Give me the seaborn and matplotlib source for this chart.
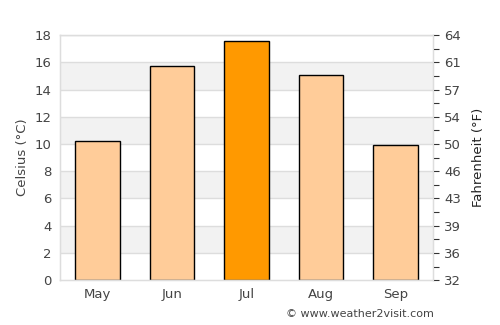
import matplotlib
matplotlib.use("Agg")
import matplotlib.pyplot as plt
import seaborn as sns
import pandas as pd

months = ["May", "Jun", "Jul", "Aug", "Sep"]
celsius = [10.2, 15.7, 17.6, 15.1, 9.9]
highlight = "Jul"
c_ticks = [0, 2, 4, 6, 8, 10, 12, 14, 16, 18]

df = pd.DataFrame({"month": months, "temp": celsius})
palette = {m: ("#ff9900" if m == highlight else "#ffcc99") for m in months}

sns.set_style("white")
plt.rcParams["font.family"] = ["DejaVu Sans"]

fig = plt.figure(figsize=(5, 3.25), dpi=100)
ax = fig.add_axes([0.12, 0.138, 0.746, 0.754])

# alternating background bands
for lo in range(2, 18, 4):
    ax.axhspan(lo, lo + 2, color="#f2f2f2", zorder=0, lw=0)
for y in c_ticks[1:]:
    ax.axhline(y, color="#dddddd", lw=1, zorder=0.5)

sns.barplot(data=df, x="month", y="temp", hue="month", palette=palette,
            width=0.6, edgecolor="black", linewidth=1, legend=False,
            saturation=1, ax=ax, zorder=2)

ax.set_ylim(0, 18)
ax.set_xlim(-0.5, 4.5)
ax.set_yticks(c_ticks)
ax.set_xlabel("")
ax.set_ylabel("Celsius (°C)", color="#444444", fontsize=9.5)
ax.tick_params(axis="both", colors="#444444", labelsize=9.5, length=0, pad=6)
for s in ax.spines.values():
    s.set_color("#dddddd")
    s.set_linewidth(1)

# Fahrenheit axis on the right
ax2 = ax.twinx()
ax2.set_ylim(0, 18)
ax2.set_yticks(c_ticks)
ax2.set_yticklabels([str(round(c * 9 / 5 + 32)) for c in c_ticks])
ax2.set_yticks(range(1, 18, 2), minor=True)
ax2.tick_params(axis="y", which="both", colors="#444444", labelsize=9.5,
                length=4, width=0.8, pad=4)
ax2.tick_params(axis="y", which="both", color="#333333")
ax2.set_ylabel("Fahrenheit (°F)", color="#222222", fontsize=9.5, labelpad=8)
for s in ax2.spines.values():
    s.set_color("#dddddd")

fig.text(0.868, 0.035, "© www.weather2visit.com", ha="right", va="center",
         fontsize=8, color="#444444")

fig.savefig("out.png", dpi=100)
